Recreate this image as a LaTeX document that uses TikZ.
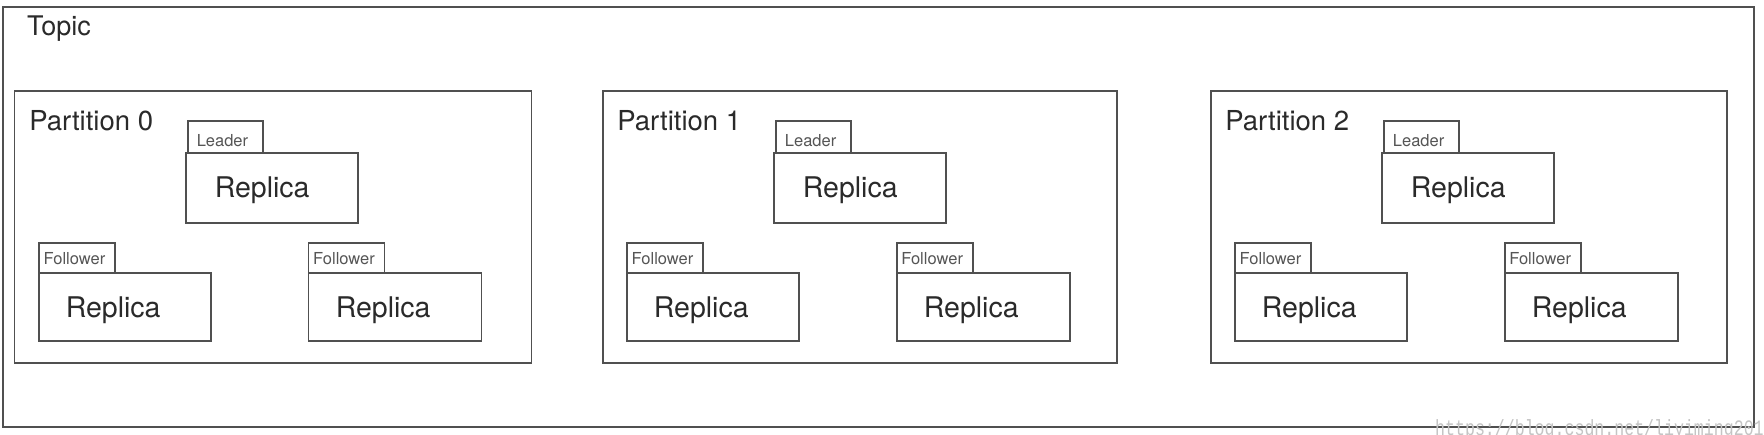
\documentclass[tikz,border=0pt]{standalone}
\usepackage{fontspec}
\setmainfont{TeX Gyre Heros}
\newfontfamily\wmfont{Liberation Mono}
\definecolor{linec}{HTML}{505050}
\definecolor{textc}{HTML}{2A2A2A}
\definecolor{smallc}{HTML}{555555}
\definecolor{wmc}{HTML}{C4C4C4}
\begin{document}
\begin{tikzpicture}[x=1pt,y=-1pt,
  frame/.style={draw=linec,line width=1.7pt,inner sep=0pt,outer sep=0pt,anchor=north west},
  bigtext/.style={text=textc,inner sep=0pt,anchor=base west,font=\fontsize{28.5}{30}\selectfont},
  parttext/.style={text=textc,inner sep=0pt,anchor=base west,font=\fontsize{27.5}{30}\selectfont},
  tabtext/.style={text=smallc,inner sep=0pt,anchor=base west,font=\fontsize{16.5}{18}\selectfont}]
\useasboundingbox (0,0) rectangle (1764,435);
\fill[white] (0,0) rectangle (1764,435);
% outer topic box
\node[frame,minimum width=1751pt,minimum height=420pt] (topic) at (3,7) {};
\node[parttext,font=\fontsize{27}{30}\selectfont] (topiclabel) at (27,36) {Topic};
% partitions
\foreach \px/\pw/\n in {14.6/517/0, 602.7/514/1, 1210.7/516.3/2}{
  \node[frame,minimum width=\pw pt,minimum height=272pt] (part\n) at (\px,91) {};
  \node[parttext] (partlabel\n) at (\px+14.5,131) {Partition \n};
  % leader
  \node[frame,minimum width=172pt,minimum height=70pt] (lrep\n) at (\px+171.5,152.7) {};
  \node[frame,minimum width=75pt,minimum height=32pt] (ltab\n) at (\px+173.5,120.7) {};
  \node[tabtext] (ltabtext\n) at (\px+182,146.3) {Leader};
  \node[bigtext] (lreptext\n) at (\px+200,197.3) {Replica};
  % left follower
  \node[frame,minimum width=172pt,minimum height=68pt] (frepA\n) at (\px+24.4,273) {};
  \node[frame,minimum width=76pt,minimum height=30pt] (ftabA\n) at (\px+24.4,243) {};
  \node[tabtext] (ftabtextA\n) at (\px+28.8,265) {Follower};
  \node[bigtext] (freptextA\n) at (\px+51,317.3) {Replica};
  % right follower
  \node[frame,minimum width=173pt,minimum height=68pt] (frepB\n) at (\px+294,273) {};
  \node[frame,minimum width=76pt,minimum height=30pt] (ftabB\n) at (\px+294,243) {};
  \node[tabtext] (ftabtextB\n) at (\px+298.4,265) {Follower};
  \node[bigtext] (freptextB\n) at (\px+321,317.3) {Replica};
}
% watermark (cut off by the lower edge, as in the original)
\node[inner sep=0pt,anchor=base west,text=wmc,font=\wmfont\fontsize{22}{24}\selectfont] (wm) at (1435,435.5) {\scalebox{0.754}[1]{https://blog.csdn.net/liyiming2017}};
\end{tikzpicture}
\end{document}
